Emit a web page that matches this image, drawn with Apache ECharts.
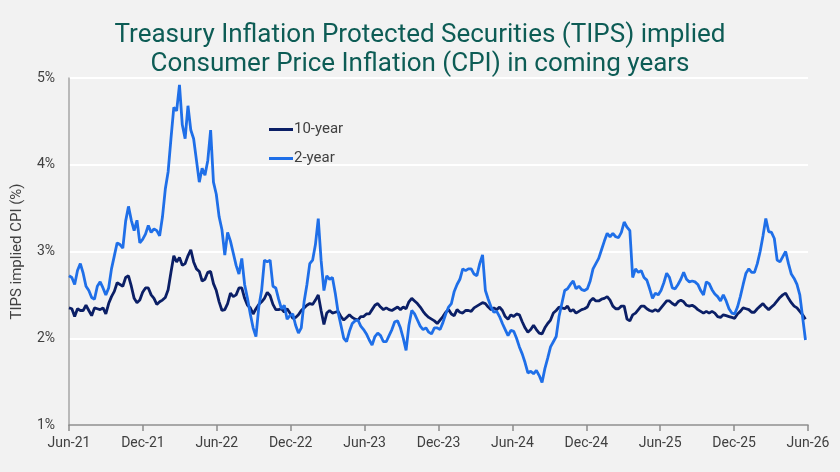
<!DOCTYPE html>
<html>
<head>
<meta charset="utf-8">
<script src="https://cdn.jsdelivr.net/npm/echarts@6/dist/echarts.min.js"></script>
<style>
  html, body { margin: 0; padding: 0; background: #f2f2f2; }
  #main { width: 840px; height: 472px; }
</style>
</head>
<body>
<div id="main"></div>
<script>
// weekly readings, first week = start of Jun-21
var tenYear = [
  2.35, 2.34, 2.25, 2.34, 2.32, 2.32, 2.38, 2.32, 2.26, 2.35,
  2.34, 2.33, 2.35, 2.28, 2.40, 2.48, 2.54, 2.64, 2.62, 2.60,
  2.70, 2.72, 2.60, 2.46, 2.41, 2.44, 2.53, 2.58, 2.58, 2.50,
  2.46, 2.39, 2.42, 2.44, 2.47, 2.56, 2.76, 2.95, 2.88, 2.93,
  2.84, 2.86, 2.95, 3.02, 2.88, 2.80, 2.77, 2.66, 2.68, 2.76,
  2.77, 2.63, 2.55, 2.42, 2.32, 2.33, 2.40, 2.52, 2.48, 2.50,
  2.58, 2.58, 2.46, 2.38, 2.35, 2.28, 2.34, 2.39, 2.42, 2.46,
  2.53, 2.49, 2.39, 2.33, 2.33, 2.34, 2.30, 2.34, 2.29, 2.23,
  2.24, 2.27, 2.32, 2.35, 2.38, 2.40, 2.39, 2.44, 2.50, 2.32,
  2.16, 2.29, 2.32, 2.29, 2.30, 2.31, 2.25, 2.21, 2.24, 2.27,
  2.24, 2.22, 2.21, 2.25, 2.25, 2.28, 2.28, 2.33, 2.38, 2.40,
  2.36, 2.33, 2.35, 2.33, 2.32, 2.34, 2.36, 2.33, 2.36, 2.34,
  2.42, 2.46, 2.43, 2.40, 2.36, 2.31, 2.27, 2.24, 2.22, 2.20,
  2.17, 2.21, 2.25, 2.30, 2.33, 2.28, 2.26, 2.33, 2.30, 2.29,
  2.32, 2.32, 2.31, 2.35, 2.37, 2.39, 2.41, 2.40, 2.36, 2.33,
  2.35, 2.33, 2.36, 2.32, 2.25, 2.22, 2.27, 2.25, 2.28, 2.27,
  2.19, 2.12, 2.07, 2.10, 2.15, 2.10, 2.06, 2.05, 2.12, 2.17,
  2.21, 2.29, 2.32, 2.36, 2.35, 2.34, 2.37, 2.31, 2.33, 2.29,
  2.31, 2.33, 2.34, 2.36, 2.43, 2.46, 2.43, 2.43, 2.45, 2.46,
  2.48, 2.44, 2.37, 2.34, 2.34, 2.37, 2.37, 2.22, 2.20, 2.27,
  2.29, 2.33, 2.37, 2.37, 2.34, 2.32, 2.31, 2.33, 2.31, 2.35,
  2.39, 2.43, 2.43, 2.40, 2.38, 2.42, 2.44, 2.42, 2.38, 2.37,
  2.38, 2.36, 2.33, 2.31, 2.29, 2.31, 2.29, 2.31, 2.29, 2.25,
  2.24, 2.27, 2.26, 2.25, 2.24, 2.23, 2.28, 2.31, 2.35, 2.34,
  2.33, 2.30, 2.30, 2.34, 2.37, 2.40, 2.36, 2.33, 2.36, 2.39,
  2.43, 2.47, 2.50, 2.52, 2.46, 2.41, 2.37, 2.35, 2.31, 2.27,
  2.22
];
var twoYear = [
  2.72, 2.70, 2.62, 2.78, 2.86, 2.75, 2.60, 2.55, 2.47, 2.45,
  2.60, 2.65, 2.58, 2.50, 2.58, 2.80, 2.95, 3.10, 3.08, 3.04,
  3.35, 3.52, 3.36, 3.24, 3.36, 3.10, 3.14, 3.20, 3.30, 3.22,
  3.26, 3.24, 3.18, 3.40, 3.72, 3.92, 4.30, 4.66, 4.62, 4.92,
  4.46, 4.30, 4.68, 4.40, 4.30, 4.05, 3.80, 3.96, 3.88, 4.05,
  4.40, 3.80, 3.66, 3.40, 3.25, 2.96, 3.22, 3.12, 2.98, 2.84,
  2.74, 2.92, 2.62, 2.46, 2.28, 2.12, 2.02, 2.36, 2.55, 2.90,
  2.88, 2.90, 2.60, 2.58, 2.45, 2.34, 2.38, 2.22, 2.26, 2.28,
  2.15, 2.06, 2.12, 2.42, 2.62, 2.86, 2.90, 3.08, 3.38, 2.90,
  2.55, 2.72, 2.68, 2.70, 2.52, 2.30, 2.15, 2.00, 1.96, 2.08,
  2.17, 2.20, 2.21, 2.14, 2.10, 2.05, 1.98, 1.92, 2.02, 2.06,
  2.03, 1.96, 1.96, 2.03, 2.10, 2.19, 2.20, 2.12, 2.00, 1.86,
  2.15, 2.32, 2.28, 2.21, 2.14, 2.10, 2.12, 2.07, 2.05, 2.12,
  2.12, 2.10, 2.18, 2.28, 2.36, 2.40, 2.54, 2.62, 2.68, 2.80,
  2.78, 2.80, 2.80, 2.74, 2.72, 2.86, 2.96, 2.55, 2.45, 2.36,
  2.30, 2.31, 2.25, 2.17, 2.10, 2.03, 2.09, 2.08, 2.00, 1.90,
  1.82, 1.72, 1.60, 1.62, 1.59, 1.63, 1.57, 1.49, 1.65, 1.77,
  1.90, 1.96, 2.02, 2.25, 2.40, 2.55, 2.57, 2.62, 2.66, 2.57,
  2.60, 2.56, 2.55, 2.57, 2.66, 2.80, 2.86, 2.92, 3.02, 3.12,
  3.21, 3.17, 3.21, 3.17, 3.16, 3.22, 3.34, 3.28, 3.24, 2.70,
  2.80, 2.76, 2.78, 2.70, 2.67, 2.57, 2.46, 2.52, 2.50, 2.55,
  2.64, 2.75, 2.70, 2.58, 2.57, 2.62, 2.68, 2.76, 2.68, 2.65,
  2.66, 2.65, 2.62, 2.55, 2.50, 2.65, 2.63, 2.56, 2.51, 2.48,
  2.43, 2.50, 2.43, 2.34, 2.29, 2.28, 2.36, 2.48, 2.62, 2.75,
  2.80, 2.76, 2.76, 2.86, 3.00, 3.18, 3.38, 3.23, 3.22, 3.15,
  2.90, 2.88, 2.94, 3.00, 2.86, 2.74, 2.69, 2.62, 2.50, 2.24,
  1.98
];
var tickLabels = ['Jun-21', 'Dec-21', 'Jun-22', 'Dec-22', 'Jun-23', 'Dec-23',
                  'Jun-24', 'Dec-24', 'Jun-25', 'Dec-25', 'Jun-26'];

// week index -> months since Jun-21
function toPairs(arr) {
  return arr.map(function (v, i) { return [i * 7 * 12 / 365.25, v]; });
}

var myChart = echarts.init(document.getElementById('main'));
var textColor = '#404040';
var option = {
  backgroundColor: '#f2f2f2',
  animation: false,
  title: {
    text: 'Treasury Inflation Protected Securities (TIPS) implied\nConsumer Price Inflation (CPI) in coming years',
    left: 'center',
    top: 16,
    textStyle: {
      color: '#0d5c55',
      fontFamily: 'Roboto',
      fontWeight: 'normal',
      fontSize: 26,
      lineHeight: 29
    }
  },
  legend: {
    orient: 'vertical',
    left: 264,
    top: 117,
    icon: 'rect',
    itemWidth: 24,
    itemHeight: 3,
    itemGap: 14,
    textStyle: { color: textColor, fontSize: 15, fontFamily: 'Roboto', padding: [0, 0, 0, -4] },
    data: ['10-year', '2-year']
  },
  grid: { left: 69, right: 32, top: 78, bottom: 47 },
  xAxis: {
    type: 'value',
    min: 0,
    max: 60,
    interval: 6,
    axisLine: { show: true, lineStyle: { color: '#8c8c8c', width: 1.5 } },
    axisTick: { show: true, length: 6, lineStyle: { color: '#8c8c8c', width: 1.5 } },
    splitLine: { show: false },
    axisLabel: {
      color: textColor,
      fontSize: 14,
      fontFamily: 'Roboto',
      margin: 11,
      formatter: function (v) { return tickLabels[Math.round(v / 6)]; }
    }
  },
  yAxis: {
    type: 'value',
    min: 1,
    max: 5,
    interval: 1,
    name: 'TIPS implied CPI (%)',
    nameLocation: 'middle',
    nameGap: 44,
    nameTextStyle: { color: textColor, fontSize: 15, fontFamily: 'Roboto' },
    axisLine: { show: true, lineStyle: { color: '#a6a6a6', width: 1.5 } },
    axisTick: { show: false },
    splitLine: { lineStyle: { color: '#ffffff', width: 2 } },
    axisLabel: {
      color: textColor,
      fontSize: 14,
      fontFamily: 'Roboto',
      margin: 14,
      formatter: '{value}%'
    }
  },
  series: [
    {
      name: '10-year',
      type: 'line',
      symbol: 'none',
      data: toPairs(tenYear),
      itemStyle: { color: '#0b1f66' },
      lineStyle: { color: '#0b1f66', width: 2.8 }
    },
    {
      name: '2-year',
      type: 'line',
      symbol: 'none',
      data: toPairs(twoYear),
      itemStyle: { color: '#1f6fe8' },
      lineStyle: { color: '#1f6fe8', width: 2.8 }
    }
  ]
};
myChart.setOption(option);
</script>
</body>
</html>
